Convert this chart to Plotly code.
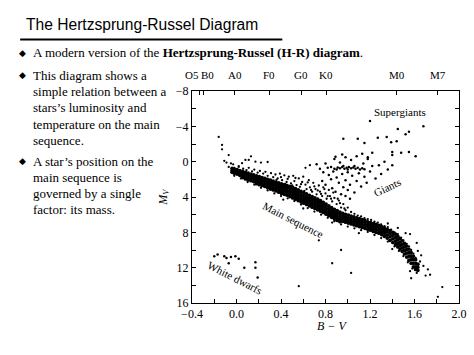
import plotly.graph_objects as go

# ---------------- data ----------------
# dense main-sequence core: rows of (B-V, [Mv values])
ms_core_rows = [
    (-0.04, [0.75, 1.0, 1.2]), (-0.02, [0.85, 1.1, 1.3]), (0.005, [0.9, 1.15, 1.4]),
    (0.03, [1.0, 1.3, 1.55]), (0.055, [1.1, 1.35, 1.6, 1.8]), (0.08, [1.2, 1.45, 1.7, 1.95]),
    (0.105, [1.3, 1.55, 1.8, 2.05]), (0.13, [1.4, 1.65, 1.9, 2.15]),
    (0.155, [1.5, 1.75, 2.0, 2.25]), (0.18, [1.6, 1.85, 2.1, 2.35, 2.5]),
    (0.205, [1.7, 1.95, 2.2, 2.45, 2.6]), (0.23, [1.8, 2.05, 2.3, 2.55, 2.7]),
    (0.255, [1.9, 2.15, 2.4, 2.65, 2.8]), (0.28, [2.0, 2.25, 2.5, 2.75, 2.95]),
    (0.305, [2.1, 2.35, 2.6, 2.85, 3.1]), (0.33, [2.2, 2.45, 2.7, 2.95, 3.2]),
    (0.355, [2.3, 2.55, 2.8, 3.05, 3.3]), (0.38, [2.4, 2.65, 2.9, 3.15, 3.45]),
    (0.405, [2.5, 2.75, 3.0, 3.3, 3.6]), (0.43, [2.6, 2.85, 3.1, 3.4, 3.7]),
    (0.455, [2.7, 2.95, 3.25, 3.55, 3.8]), (0.48, [2.8, 3.05, 3.35, 3.65, 3.95]),
    (0.505, [2.9, 3.2, 3.5, 3.8, 4.1]), (0.53, [3.05, 3.35, 3.65, 3.95, 4.25]),
    (0.555, [3.2, 3.5, 3.8, 4.1, 4.4]), (0.58, [3.35, 3.65, 3.95, 4.25, 4.55]),
    (0.605, [3.5, 3.8, 4.1, 4.4, 4.7]), (0.63, [3.65, 3.95, 4.25, 4.55, 4.85]),
    (0.655, [3.8, 4.1, 4.4, 4.7, 5.0]), (0.68, [3.95, 4.25, 4.55, 4.85, 5.15]),
    (0.705, [4.1, 4.4, 4.7, 5.0, 5.3]), (0.73, [4.25, 4.55, 4.85, 5.15, 5.45]),
    (0.755, [4.4, 4.7, 5.0, 5.3, 5.6]), (0.78, [4.6, 4.9, 5.2, 5.5, 5.75]),
    (0.805, [4.8, 5.1, 5.4, 5.7, 5.95]), (0.83, [5.0, 5.3, 5.6, 5.9, 6.1]),
    (0.855, [5.2, 5.5, 5.8, 6.1, 6.3]), (0.88, [5.4, 5.7, 6.0, 6.3, 6.5]),
    (0.905, [5.55, 5.85, 6.15, 6.45, 6.65]), (0.93, [5.7, 6.0, 6.3, 6.6, 6.8]),
    (0.955, [5.85, 6.15, 6.45, 6.75]), (0.98, [5.95, 6.25, 6.55, 6.85]),
    (1.005, [6.05, 6.35, 6.65, 6.95]), (1.03, [6.15, 6.45, 6.75, 7.05]),
    (1.055, [6.25, 6.55, 6.85, 7.15]), (1.08, [6.35, 6.65, 6.95, 7.25]),
    (1.105, [6.45, 6.75, 7.05, 7.35]), (1.13, [6.55, 6.85, 7.15, 7.45]),
    (1.155, [6.65, 6.95, 7.25, 7.55]), (1.18, [6.8, 7.1, 7.4, 7.65]),
    (1.205, [6.9, 7.2, 7.5, 7.75]), (1.23, [7.0, 7.3, 7.6, 7.9]),
    (1.255, [7.1, 7.4, 7.7, 8.0]), (1.28, [7.2, 7.5, 7.8, 8.1]),
    (1.305, [7.35, 7.65, 7.95, 8.25]), (1.33, [7.5, 7.8, 8.1, 8.45]),
    (1.355, [7.65, 7.95, 8.3, 8.65]), (1.38, [7.8, 8.15, 8.5, 8.9]),
    (1.405, [8.0, 8.35, 8.75, 9.15]), (1.43, [8.2, 8.6, 9.0, 9.4]),
    (1.45, [8.45, 8.85, 9.25, 9.65]), (1.47, [8.7, 9.1, 9.5, 9.9]),
    (1.49, [8.95, 9.35, 9.75, 10.15]), (1.51, [9.25, 9.65, 10.05, 10.45]),
    (1.53, [9.55, 9.95, 10.35, 10.8]), (1.55, [9.9, 10.3, 10.7, 11.15]),
    (1.57, [10.3, 10.7, 11.1, 11.5]), (1.59, [10.7, 11.1, 11.5, 11.9]),
    (1.61, [11.1, 11.5, 11.9, 12.2]), (1.63, [11.6, 11.95, 12.3]),
]

# sparse field stars (edges of the band, subgiants, stragglers)
field_points = [
    (0.02, 0.6), (0.06, 0.8), (0.09, 0.95), (0.11, 0.7), (0.14, 1.1), (0.16, 0.9),
    (0.19, 1.25), (0.21, 1.05), (0.24, 1.35), (0.26, 1.15), (0.28, 1.6), (0.31, 1.3),
    (0.33, 1.75), (0.35, 1.45), (0.37, 1.9), (0.39, 1.35), (0.41, 2.1), (0.43, 1.55),
    (0.45, 2.3), (0.47, 1.7), (0.49, 2.45), (0.51, 1.6), (0.52, 2.2), (0.54, 2.65),
    (0.56, 1.9), (0.57, 2.85), (0.59, 2.3), (0.60, 1.7), (0.62, 2.6), (0.63, 3.1),
    (0.65, 2.1), (0.66, 2.9), (0.68, 3.4), (0.69, 2.4), (0.71, 3.1), (0.72, 3.7),
    (0.74, 2.7), (0.75, 3.4), (0.77, 3.9), (0.78, 2.9), (0.80, 3.6), (0.81, 4.2),
    (0.83, 3.2), (0.84, 3.9), (0.86, 4.5), (0.88, 4.1), (0.90, 4.8), (0.92, 4.4),
    (0.94, 5.2), (0.96, 4.8), (0.98, 5.5), (1.00, 5.2), (1.03, 5.7), (1.06, 5.9),
    (1.09, 6.1), (1.12, 6.2), (1.15, 6.4), (1.18, 6.5), (1.21, 6.6), (1.24, 6.8),
    (1.27, 6.9), (1.30, 7.1), (1.33, 7.3), (1.36, 7.4), (1.39, 7.7), (1.42, 8.0),
    (1.45, 8.2), (1.48, 8.6), (1.50, 8.9), (1.53, 9.3), (1.55, 9.6), (1.57, 10.0),
    (1.59, 10.4), (1.61, 10.9),
    (0.36, 2.05), (0.44, 2.55), (0.50, 2.7), (0.53, 1.85), (0.58, 2.55), (0.61, 3.3),
    (0.64, 2.35), (0.67, 3.2), (0.70, 2.8), (0.73, 3.25), (0.76, 3.65), (0.79, 3.1),
    (0.82, 3.9), (0.85, 4.2), (0.87, 3.5), (0.91, 4.2), (0.93, 4.7), (0.97, 5.3),
    (0.46, 1.95), (0.40, 1.75),
    (-0.02, 1.6), (0.04, 1.9), (0.10, 2.3), (0.16, 2.6), (0.22, 2.95), (0.28, 3.25),
    (0.34, 3.6), (0.40, 3.9), (0.46, 4.15), (0.52, 4.45), (0.58, 4.85), (0.64, 5.25),
    (0.70, 5.65), (0.76, 6.0), (0.82, 6.35), (0.88, 6.75), (0.94, 7.1), (1.00, 7.35),
    (1.06, 7.55), (1.12, 7.75), (1.18, 7.95), (1.24, 8.3), (1.30, 8.65), (1.36, 9.05),
    (1.42, 9.6), (1.46, 10.1), (1.50, 10.7), (1.54, 11.4), (1.58, 12.1), (1.62, 12.6),
    (0.42, 4.3), (0.60, 5.3), (0.86, 6.9), (1.10, 8.1), (1.40, 9.9), (1.56, 12.4),
    (1.56, 8.2), (1.63, 10.1), (1.65, 11.3), (1.68, 11.8), (1.72, 12.2), (1.74, 12.8),
    (1.57, 13.2), (1.70, 12.9), (1.66, 10.6), (1.62, 9.2), (1.52, 8.1), (1.45, 7.5),
    (1.36, 7.0),
    (0.74, 8.9), (0.94, 10.0), (0.86, 11.5), (1.03, 12.6), (1.81, 15.3), (1.85, 14.2),
    (0.56, 14.1),
    (-0.16, -2.8), (-0.13, -1.9), (-0.13, -1.4), (-0.07, -0.75), (-0.11, -0.1),
    (-0.09, 0.1), (-0.07, 0.6), (-0.05, 0.2), (-0.03, 0.3), (0.13, -0.6), (0.08, -0.2),
    (0.11, -0.2), (0.05, 0.17), (0.17, 0.0), (0.22, 0.1), (0.28, 0.04), (0.62, 0.7),
    (0.66, 0.4), (0.02, 0.5), (-0.02, 0.7),
]

giant_points = [
    (0.82, 0.7), (0.85, 0.6), (0.88, 0.8), (0.91, 0.65), (0.93, 0.75), (0.95, 0.6),
    (0.97, 0.8), (0.99, 0.7), (1.01, 0.6), (1.03, 0.75), (1.05, 0.65), (1.07, 0.8),
    (1.09, 0.7), (1.11, 0.9), (1.13, 0.75), (1.15, 0.85), (0.90, 0.9), (0.96, 0.5),
    (1.00, 0.9), (1.06, 0.5),
    (0.72, 0.3), (0.75, 0.8), (0.78, 1.2), (0.80, 0.2), (0.83, 1.5), (0.85, 2.0),
    (0.87, 1.1), (0.88, -0.3), (0.90, 1.8), (0.92, 2.4), (0.93, 0.1), (0.95, 1.4),
    (0.96, 2.9), (0.98, 2.1), (1.00, 1.2), (1.00, 3.2), (1.02, 2.6), (1.03, -0.2),
    (1.04, 1.6), (1.06, 3.5), (1.08, 2.2), (1.10, 1.3), (1.12, 2.8), (1.14, 0.2),
    (1.15, 1.7), (1.17, 2.4), (1.18, -0.3), (1.20, 1.1), (1.22, 0.5), (1.25, 1.9),
    (1.28, 0.4), (1.30, 1.4), (1.33, 0.0), (1.36, 0.9), (1.40, 0.4), (0.86, 3.0),
    (0.89, 3.4), (0.94, 3.7), (0.98, 3.9), (1.02, 4.2), (0.80, 2.6), (0.77, 2.2),
    (1.08, -0.6), (0.98, -0.5),
]

supergiant_points = [
    (0.96, -2.6), (1.09, -2.6), (1.15, -2.1), (1.20, -4.6), (1.27, -2.7), (1.35, -2.8),
    (1.39, -2.2), (1.44, -2.3), (1.45, -3.7), (1.52, -3.1), (1.55, -3.4), (1.68, -4.0),
    (1.40, -1.1), (1.40, -0.75), (1.48, -1.0), (1.55, -1.1), (1.61, -0.6), (1.13, -0.9),
    (1.18, -0.5), (1.22, -1.0), (0.89, -0.55), (0.95, -0.8),
]

white_dwarf_points = [
    (-0.20, 10.7), (-0.17, 10.5), (-0.11, 10.7), (-0.09, 10.9), (-0.05, 10.8),
    (-0.01, 10.7), (0.02, 11.0), (-0.07, 11.5), (0.07, 12.0), (0.17, 11.4),
    (0.17, 12.0), (0.19, 13.1),
]

spectral_types = ["O5", "B0", "A0", "F0", "G0", "K0", "M0", "M7"]
spectral_ticks = [-0.33, -0.30, -0.016, 0.30, 0.58, 0.81, 1.44, 1.81]
spectral_label_x = [-0.40, -0.258, -0.016, 0.29, 0.58, 0.804, 1.44, 1.81]

x_tickvals = [-0.4, -0.2, 0.0, 0.2, 0.4, 0.6, 0.8, 1.0, 1.2, 1.4, 1.6, 1.8, 2.0]
x_ticktext = ["\u22120.4", "", "0.0", "", "0.4", "", "0.8", "", "1.2", "", "1.6", "", "2.0"]
y_tickvals = [-8, -6, -4, -2, 0, 2, 4, 6, 8, 10, 12, 14, 16]
y_ticktext = ["\u22128", "", "\u22124", "", "0", "", "4", "", "8", "", "12", "", "16"]

slide_title = "The Hertzsprung-Russel Diagram"
bullet1 = "A modern version of the <b>Hertzsprung-Russel (H-R) diagram</b>."
bullet2_lines = ["This diagram shows a", "simple relation between a",
                 "stars\u2019s luminosity and", "temperature on the main", "sequence."]
bullet3_lines = ["A star\u2019s position on the", "main sequence is",
                 "governed by a single", "factor: its mass."]

# ---------------- figure ----------------
SERIF = "Liberation Serif, Times New Roman, serif"
SANS = "Liberation Sans, Arial, sans-serif"

core_x = [bv for bv, mvs in ms_core_rows for _ in mvs]
core_y = [mv for _, mvs in ms_core_rows for mv in mvs]

fig = go.Figure()
fig.add_trace(go.Scatter(x=core_x, y=core_y, mode="markers",
                         marker=dict(size=3.7, color="black", line=dict(width=0)),
                         hoverinfo="skip", showlegend=False))
for pts, sz in [(field_points, 2.3), (giant_points, 2.5), (white_dwarf_points, 2.5)]:
    fig.add_trace(go.Scatter(x=[p[0] for p in pts], y=[p[1] for p in pts], mode="markers",
                             marker=dict(size=sz, color="black", line=dict(width=0)),
                             hoverinfo="skip", showlegend=False))
fig.add_trace(go.Scatter(x=[p[0] for p in supergiant_points], y=[p[1] for p in supergiant_points],
                         xaxis="x2", mode="markers",
                         marker=dict(size=2.5, color="black", line=dict(width=0)),
                         hoverinfo="skip", showlegend=False))

axis_common = dict(showgrid=False, zeroline=False, showline=True, linecolor="black",
                   linewidth=1, ticks="inside", ticklen=4, tickcolor="black", tickwidth=1,
                   tickfont=dict(family=SERIF, size=12, color="black"))

fig.update_layout(
    width=474, height=355,
    margin=dict(l=192, r=7, t=91, b=52),
    paper_bgcolor="white", plot_bgcolor="white",
    xaxis=dict(range=[-0.4, 2.0], tickmode="array", tickvals=x_tickvals,
               ticktext=x_ticktext, ticklabeloverflow="allow", **axis_common),
    xaxis2=dict(range=[-0.4, 2.0], overlaying="x", side="top", tickmode="array",
                tickvals=spectral_ticks, showticklabels=False, **axis_common),
    yaxis=dict(range=[16, -8], tickmode="array", tickvals=y_tickvals,
               ticktext=y_ticktext, mirror="ticks", **axis_common),
)


def px_x(px):
    return (px - 192) / 275.0


def px_y(py):
    return (303 - py) / 212.0


ann = []
for name, lx in zip(spectral_types, spectral_label_x):
    ann.append(dict(x=lx, xref="x", y=px_y(75.5), yref="paper", text=name, showarrow=False,
                    xanchor="center", yanchor="middle",
                    font=dict(family=SERIF, size=11, color="black")))

# region labels
lab_font = dict(family=SERIF, size=11, color="black")
ann += [
    dict(x=1.467, y=-5.6, xref="x", yref="y", text="Supergiants", showarrow=False, font=lab_font),
    dict(x=1.36, y=2.9, xref="x", yref="y", text="Giants", showarrow=False, textangle=-25,
         font=lab_font),
    dict(x=0.51, y=6.6, xref="x", yref="y", text="Main sequence", showarrow=False, textangle=27,
         font=lab_font),
    dict(x=-0.01, y=13.2, xref="x", yref="y", text="White dwarfs", showarrow=False, textangle=27,
         font=lab_font),
    dict(x=px_x(163), y=px_y(197), xref="paper", yref="paper", text="<i>M<sub>V</sub></i>",
         xanchor="center", yanchor="middle",
         showarrow=False, textangle=-90, font=dict(family=SERIF, size=12, color="black")),
    dict(x=px_x(336), y=px_y(326), xref="paper", yref="paper", text="<i>B \u2212 V</i>",
         xanchor="center", yanchor="middle",
         showarrow=False, font=dict(family=SERIF, size=12, color="black")),
]

# slide text
txt_font = dict(family=SERIF, size=13, color="black")
dia_font = dict(family="DejaVu Sans", size=9, color="black")
ann.append(dict(x=px_x(19), y=px_y(25), xref="paper", yref="paper", xanchor="left",
                yanchor="middle", text=slide_title, showarrow=False,
                font=dict(family=SANS, size=15.6, color="black")))
ann.append(dict(x=px_x(17), y=px_y(53), xref="paper", yref="paper", xanchor="center",
                yanchor="middle", text="\u25c6", showarrow=False, font=dia_font))
ann.append(dict(x=px_x(26), y=px_y(53), xref="paper", yref="paper", xanchor="left",
                yanchor="middle", text=bullet1, showarrow=False, font=txt_font))
for lines, y0 in [(bullet2_lines, 75.5), (bullet3_lines, 161.0)]:
    ann.append(dict(x=px_x(17), y=px_y(y0), xref="paper", yref="paper", xanchor="center",
                    yanchor="middle", text="\u25c6", showarrow=False, font=dia_font))
    for i, line in enumerate(lines):
        ann.append(dict(x=px_x(26), y=px_y(y0 + 16.2 * i), xref="paper", yref="paper",
                        xanchor="left", yanchor="middle", text=line, showarrow=False,
                        font=txt_font))
fig.update_layout(annotations=ann)

fig.add_shape(type="line", xref="paper", yref="paper", x0=px_x(15), x1=px_x(285),
              y0=px_y(39.5), y1=px_y(39.5), line=dict(color="black", width=2))

fig.write_html("out.html")
